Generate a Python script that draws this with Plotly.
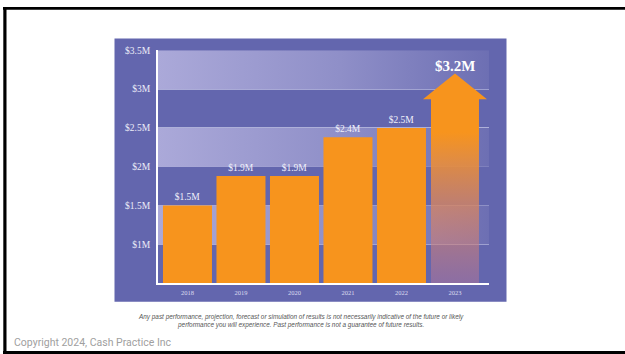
import plotly.graph_objects as go

# ---- data ----
years = ["2018", "2019", "2020", "2021", "2022", "2023"]
revenue_m = [1.5, 1.88, 1.88, 2.38, 2.5]          # actual bars ($M)
projection_m = 3.2                                  # 2023 projection ($M)
y_ticks = [0.5, 1.0, 1.5, 2.0, 2.5, 3.0, 3.5]
y_tick_labels = ["", "$1M", "$1.5M", "$2M", "$2.5M", "$3M", "$3.5M"]
disclaimer = ("Any past performance, projection, forecast or simulation of results is not necessarily indicative of the future or likely<br>"
              "performance you will experience. Past performance is not a guarantee of future results.")
copyright_text = "Copyright 2024, Cash Practice Inc"

# ---- style ----
W, H = 625, 354
PANEL = "#6366ae"
ORANGE = "#F7941D"
SERIF = "Liberation Serif"
X_RANGE = [-0.551, 5.636]
Y_RANGE = [y_ticks[0], y_ticks[-1]]
BAR_W = 0.916
ARROW_BODY_W = 0.897
ARROW_HEAD_W = 1.196
ARROW_HEAD_H = 0.33

def px(x):
    return x / W

def py(y):
    return 1 - y / H

fig = go.Figure()

# alternating light gradient bands (between tick pairs, from the top) on base subplot
for i in range(len(y_ticks) - 1, 0, -2):
    y1, y0 = y_ticks[i], y_ticks[i - 1]
    fig.add_trace(go.Scatter(
        x=[X_RANGE[0], X_RANGE[1], X_RANGE[1], X_RANGE[0], X_RANGE[0]],
        y=[y0, y0, y1, y1, y0],
        mode="lines", line=dict(width=0), fill="toself",
        fillgradient=dict(type="horizontal",
                          colorscale=[[0, "#aba9d9"], [0.55, "#8f8fc8"], [1, "#6d6fb3"]]),
        hoverinfo="skip", showlegend=False, xaxis="x", yaxis="y"))

# actual bars (overlay subplot so they sit above the bands)
idx = list(range(len(years)))
fig.add_trace(go.Bar(
    x=idx[:len(revenue_m)], y=revenue_m, width=BAR_W,
    marker=dict(color=ORANGE, line=dict(width=0)),
    text=[f"${v:.1f}M" for v in revenue_m], textposition="outside",
    textfont=dict(family=SERIF, size=9.5, color="#f0f0fa"),
    cliponaxis=False, showlegend=False, xaxis="x2", yaxis="y2"))

# projection arrow
xc = idx[len(revenue_m)]
b, h = ARROW_BODY_W / 2, ARROW_HEAD_W / 2
yb, yh = Y_RANGE[0], projection_m - ARROW_HEAD_H
fig.add_trace(go.Scatter(
    x=[xc - b, xc + b, xc + b, xc + h, xc, xc - h, xc - b, xc - b],
    y=[yb, yb, yh, yh, projection_m, yh, yh, yb],
    mode="lines", line=dict(width=0), fill="toself",
    fillgradient=dict(type="vertical", colorscale=[
        [0, "rgba(190,120,150,0.45)"], [0.4, "rgba(220,135,90,0.78)"],
        [0.72, "rgba(247,148,29,1)"], [1, "rgba(247,148,29,1)"]]),
    hoverinfo="skip", showlegend=False, xaxis="x2", yaxis="y2"))

fig.add_annotation(x=xc, y=projection_m, xref="x2", yref="y2",
                   text=f"<b>${projection_m:.1f}M</b>",
                   showarrow=False, yanchor="middle", yshift=8,
                   font=dict(family=SERIF, size=15, color="white"))

fig.update_layout(
    xaxis=dict(domain=[px(158), px(489)], range=X_RANGE,
               tickmode="array", tickvals=idx, ticktext=years,
               tickfont=dict(family=SERIF, size=6.5, color="#dcdcee"),
               showgrid=False, zeroline=False, showline=True,
               linecolor="white", linewidth=2, ticks="", ticklabelstandoff=2),
    yaxis=dict(domain=[py(282), py(46)], range=Y_RANGE,
               tickmode="array", tickvals=y_ticks, ticktext=y_tick_labels,
               tickfont=dict(family=SERIF, size=9.5, color="#ececf8"),
               showgrid=False,
               zeroline=False, showline=True, linecolor="white", linewidth=2,
               ticks="", ticklabelstandoff=4),
    xaxis2=dict(overlaying="x", range=X_RANGE, visible=False),
    yaxis2=dict(overlaying="y", range=Y_RANGE, tickmode="array", tickvals=y_ticks,
                showticklabels=False, showline=False, zeroline=False, ticks="",
                showgrid=True, gridcolor="rgba(225,225,245,0.6)", gridwidth=1),
)

shapes = [
    # purple panel
    dict(type="rect", xref="paper", yref="paper", x0=px(114.5), x1=px(506.5),
         y0=py(301), y1=py(34), fillcolor=PANEL, line=dict(width=0), layer="below"),
    # black page borders
    dict(type="rect", xref="paper", yref="paper", x0=px(3), x1=1, y0=py(4.7), y1=py(2),
         fillcolor="black", line=dict(width=0)),
    dict(type="rect", xref="paper", yref="paper", x0=px(3.3), x1=px(6.5), y0=py(354), y1=py(2),
         fillcolor="black", line=dict(width=0)),
    dict(type="rect", xref="paper", yref="paper", x0=px(3), x1=1, y0=0, y1=py(351),
         fillcolor="black", line=dict(width=0)),
]

fig.add_annotation(xref="paper", yref="paper", x=px(300.5), y=py(320.5),
                   text=f"<i>{disclaimer}</i>", showarrow=False, align="center",
                   xanchor="center", yanchor="middle",
                   font=dict(family="Liberation Sans", size=6.4, color="#555555"))
fig.add_annotation(xref="paper", yref="paper", x=px(12), y=py(342),
                   text=copyright_text, showarrow=False, xanchor="left", yanchor="middle",
                   font=dict(family="Roboto", size=10.5, color="#a0a0a0"))

fig.update_layout(width=W, height=H, margin=dict(l=0, r=0, t=0, b=0),
                  paper_bgcolor="white", plot_bgcolor="rgba(0,0,0,0)",
                  showlegend=False, shapes=shapes, barmode="overlay")

fig.write_html("out.html")
